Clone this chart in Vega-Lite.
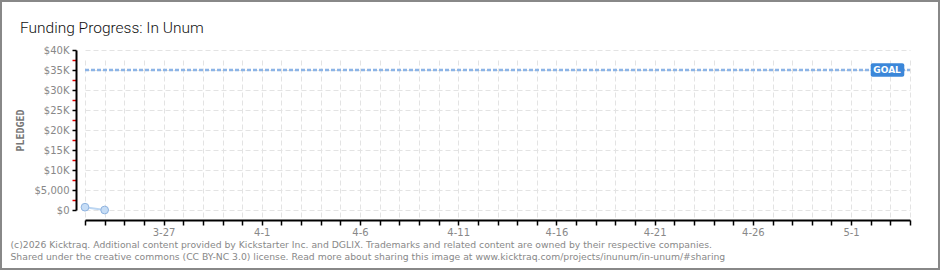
{
  "$schema": "https://vega.github.io/schema/vega-lite/v6.json",
  "width": 940,
  "height": 270,
  "autosize": "none",
  "padding": 0,
  "background": "white",
  "title": {
    "text": "Funding Progress: In Unum",
    "anchor": "start",
    "frame": "group",
    "orient": "top",
    "offset": 0,
    "dx": 20,
    "dy": 48,
    "baseline": "alphabetic",
    "font": "Roboto",
    "fontSize": 15.5,
    "fontWeight": 300,
    "color": "#111"
  },
  "config": {
    "view": {"stroke": "#888", "strokeWidth": 4},
    "axis": {"labelFont": "DejaVu Sans", "titleFont": "DejaVu Sans", "labelOverlap": false}
  },
  "datasets": {
    "pledges": [
      {"date": "2026-03-23", "amount": 700},
      {"date": "2026-03-24", "amount": 0}
    ],
    "goal": [{"amount": 35000, "label": "GOAL"}]
  },
  "encoding": {
    "y": {
      "field": "amount",
      "type": "quantitative",
      "scale": {"domain": [0, 40000], "range": [210, 50]},
      "axis": {
        "orient": "left",
        "offset": -76,
        "values": [0, 2500, 5000, 7500, 10000, 12500, 15000, 17500, 20000, 22500, 25000, 27500, 30000, 32500, 35000, 37500, 40000],
        "labelExpr": "datum.value % 5000 != 0 ? '' : (datum.value == 0 ? '$0' : (datum.value == 5000 ? '$5,000' : '$' + (datum.value/1000) + 'K'))",
        "labelColor": "#888",
        "labelFontSize": 10,
        "labelPadding": 3,
        "labelOverlap": false,
        "domainColor": "#000",
        "domainWidth": 2,
        "tickColor": {"condition": {"test": "datum.value % 5000 != 0", "value": "#e00000"}, "value": "#000"},
        "tickWidth": 1.5,
        "tickSize": 4,
        "grid": true,
        "gridColor": "#e3e3e3",
        "gridDash": [5, 3],
        "gridOpacity": {"condition": {"test": "datum.value % 5000 != 0", "value": 0}, "value": 1},
        "title": "PLEDGED",
        "titleX": -56,
        "titleY": 130,
        "titleAlign": "center",
        "titleBaseline": "middle",
        "titleAngle": 270,
        "titleFont": "DejaVu Sans Mono",
        "titleFontSize": 10,
        "titleFontWeight": "bold",
        "titleColor": "#777"
      }
    }
  },
  "layer": [
    {
      "data": {"name": "goal"},
      "mark": {"type": "rule", "color": "#8cb4e6", "strokeWidth": 2.5, "strokeDash": [4, 2]},
      "encoding": {
        "x": {
          "datum": {"year": 2026, "month": 3, "date": 23, "utc": true},
          "type": "temporal",
          "scale": {
            "type": "utc",
            "domain": [
              {"year": 2026, "month": 3, "date": 23, "utc": true},
              {"year": 2026, "month": 5, "date": 4, "utc": true}
            ],
            "range": [85, 910]
          },
          "axis": {
            "orient": "bottom",
            "offset": -50,
            "tickCount": {"interval": "day", "step": 1},
            "labelExpr": "round((datum.value - utc(2026,2,27))/864e5) % 5 == 0 ? utcFormat(datum.value, '%-m-%-d') : ''",
            "labelColor": "#888",
            "labelFontSize": 10,
            "labelPadding": 2,
            "labelOverlap": false,
            "labelFlush": false,
            "domainColor": "#000",
            "domainWidth": 2,
            "tickColor": "#000",
            "tickWidth": 1.5,
            "tickSize": 5,
            "grid": true,
            "gridColor": "#e3e3e3",
            "gridDash": [5, 3],
            "title": [
              "(c)2026 Kicktraq. Additional content provided by Kickstarter Inc. and DGLIX. Trademarks and related content are owned by their respective companies.",
              "Shared under the creative commons (CC BY-NC 3.0) license. Read more about sharing this image at www.kicktraq.com/projects/inunum/in-unum/#sharing"
            ],
            "titleX": 10,
            "titleY": 27,
            "titleAlign": "left",
            "titleAnchor": "start",
            "titleBaseline": "alphabetic",
            "titleFontSize": 9.25,
            "titleFontWeight": "normal",
            "titleColor": "#888",
            "titleLineHeight": 12.5
          }
        },
        "x2": {"datum": {"year": 2026, "month": 5, "date": 4, "utc": true}}
      }
    },
    {
      "data": {"name": "pledges"},
      "mark": {"type": "line", "color": "#bcd6f2", "strokeWidth": 2},
      "encoding": {
        "x": {"field": "date", "type": "temporal"}
      }
    },
    {
      "data": {"name": "pledges"},
      "mark": {"type": "point", "shape": "circle", "filled": true, "fill": "#c6ddf6", "stroke": "#8fb3df", "strokeWidth": 1, "size": 60, "opacity": 1},
      "encoding": {
        "x": {"field": "date", "type": "temporal"}
      }
    },
    {
      "data": {"name": "goal"},
      "mark": {"type": "rect", "color": "#3b87d9", "cornerRadius": 2},
      "encoding": {
        "x": {"datum": {"year": 2026, "month": 5, "date": 2, "utc": true}, "type": "temporal"},
        "x2": {"datum": {"year": 2026, "month": 5, "date": 3, "hours": 17, "utc": true}},
        "y": {"datum": 36700, "type": "quantitative"},
        "y2": {"datum": 33300}
      }
    },
    {
      "data": {"name": "goal"},
      "mark": {"type": "text", "color": "white", "font": "DejaVu Sans", "fontSize": 9, "fontWeight": "bold", "align": "center", "baseline": "middle"},
      "encoding": {
        "x": {"datum": {"year": 2026, "month": 5, "date": 2, "hours": 20, "utc": true}, "type": "temporal"},
        "text": {"field": "label"}
      }
    }
  ]
}
